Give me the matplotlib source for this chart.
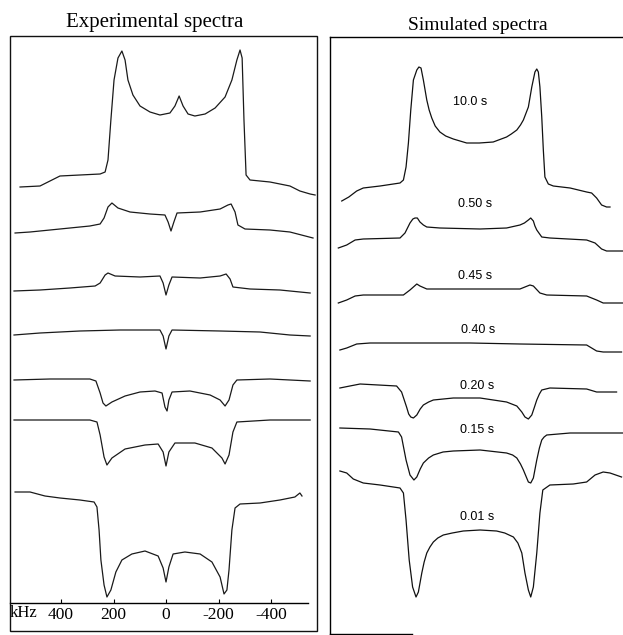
import matplotlib
matplotlib.use("Agg")
import matplotlib.pyplot as plt
from matplotlib.patches import Rectangle

W, H = 623, 635

# ---------------- Experimental spectra (x: kHz, y: stacked intensity) ----------
exp_labels = ["10.0 s", "0.50 s", "0.45 s", "0.40 s", "0.20 s", "0.15 s", "0.01 s"]

exp_10_x = [556, 480, 442, 404, 328, 251, 232, 221, 210, 198, 183, 168, 156, 145, 126, 99, 61, 23,
            -15, -34, -50, -65, -84, -110, -149, -187, -225, -251, -270, -282, -290, -297, -305,
            -320, -396, -472, -510, -549, -568]
exp_10_y = [416, 417, 422, 427, 428, 429, 431, 443, 483, 523, 545, 552, 543, 523, 508, 497, 491, 488,
            490, 497, 507, 497, 489, 487, 489, 495, 506, 523, 543, 553, 545, 483, 428,
            423, 421, 417, 412, 409, 408]

exp_050_x = [575, 518, 442, 366, 290, 251, 236, 221, 206, 183, 137, 61, 4, -8, -19, -30, -42,
             -130, -206, -236, -248, -263, -274, -301, -396, -472, -560]
exp_050_y = [370, 371, 373, 375, 377, 379, 385, 396, 400, 395, 391, 389, 388, 381, 372, 381, 390,
             391, 394, 398, 399, 391, 378, 374, 373, 371, 365]

exp_045_x = [579, 480, 366, 270, 251, 232, 221, 194, 99, 23, 11, 0, -11, -23, -130, -206, -229,
             -244, -255, -320, -434, -549]
exp_045_y = [312, 313, 315, 317, 320, 328, 330, 327, 326, 327, 320, 308, 318, 326, 325, 327, 329,
             324, 316, 314, 313, 310]

exp_040_x = [579, 480, 328, 175, 23, 11, 0, -11, -23, -206, -358, -472, -549]
exp_040_y = [268, 270, 272, 273, 273, 267, 254, 267, 273, 272, 271, 268, 267]

exp_020_x = [579, 442, 290, 267, 251, 240, 229, 206, 156, 99, 42, 15, 4, -4, -11, -23, -91, -168,
             -206, -225, -240, -255, -270, -396, -549]
exp_020_y = [223, 224, 224, 222, 210, 200, 197, 201, 207, 211, 212, 210, 196, 192, 203, 211, 212, 208,
             203, 197, 203, 218, 223, 224, 222]

exp_015_x = [579, 442, 290, 263, 251, 236, 225, 206, 156, 80, 30, 11, 0, -11, -34, -110, -175,
             -213, -225, -240, -255, -270, -396, -549]
exp_015_y = [183, 183, 183, 181, 168, 146, 138, 145, 154, 158, 159, 151, 137, 151, 160, 160, 155,
             145, 139, 148, 171, 181, 183, 183]

exp_001_x = [575, 518, 461, 404, 328, 274, 263, 255, 248, 236, 225, 210, 191, 168, 130, 80, 30, 11,
             0, -11, -27, -72, -130, -175, -206, -221, -232, -240, -251, -263, -282, -358, -434,
             -491, -510, -518]
exp_001_y = [111, 111, 107, 105, 103, 101, 96, 73, 43, 18, 6, 13, 31, 43, 49, 52, 47, 35,
             21, 36, 49, 51, 49, 41, 26, 9, 13, 33, 73, 95, 99, 100, 103,
             106, 110, 107]

exp_series = [(exp_10_x, exp_10_y), (exp_050_x, exp_050_y), (exp_045_x, exp_045_y),
              (exp_040_x, exp_040_y), (exp_020_x, exp_020_y), (exp_015_x, exp_015_y),
              (exp_001_x, exp_001_y)]

# ---------------- Simulated spectra ----------------
sim_10_x = [521, 494, 464, 439, 375, 299, 286, 276, 267, 258, 248, 235, 227, 219, 210, 197, 188, 178,
            165, 147, 125, 96, 45, -3, -56, -107, -125, -146, -160, -171, -190, -203, -215, -222,
            -228, -234, -241, -247, -253, -266, -285, -349, -412, -431, -450, -469, -488, -501]
sim_10_y = [433, 437, 443, 446, 448, 451, 454, 467, 491, 524, 554, 564, 567, 566, 554, 534, 524, 516,
            508, 502, 498, 495, 491, 491, 492, 497, 500, 504, 509, 514, 527, 547, 562, 565,
            562, 547, 517, 484, 457, 450, 448, 446, 442, 441, 436, 429, 427, 427]

sim_050_x = [534, 502, 470, 439, 299, 280, 261, 250, 242, 233, 223, 210, 197, 147, -6, -107, -158,
             -175, -190, -199, -209, -215, -222, -241, -272, -412, -444, -469, -488, -552]
sim_050_y = [386, 389, 394, 395, 396, 401, 411, 415, 416, 416, 412, 409, 407, 406, 405, 406, 409,
             411, 414, 416, 413, 408, 404, 397, 396, 394, 391, 385, 383, 383]

sim_045_x = [534, 502, 470, 439, 286, 261, 235, 223, 197, 159, -158, -196, -209, -234, -260, -412,
             -450, -475, -552]
sim_045_y = [331, 334, 338, 339, 339, 344, 350, 348, 345, 345, 345, 349, 348, 341, 339, 338,
             334, 331, 331]

sim_040_x = [528, 502, 464, 413, 223, 32, -158, -412, -450, -475, -545]
sim_040_y = [284, 286, 290, 291, 291, 291, 290, 289, 283, 282, 282]

sim_020_x = [528, 490, 451, 312, 293, 274, 266, 258, 248, 235, 222, 210, 190, 172, 96, -6, -107,
             -146, -165, -177, -190, -203, -212, -222, -232, -241, -272, -412, -450, -526]
sim_020_y = [246, 248, 250, 248, 242, 227, 220, 217, 216, 219, 225, 229, 232, 234, 236, 236, 232,
             228, 222, 217, 215, 219, 226, 234, 240, 244, 246, 245, 242, 242]

sim_015_x = [528, 413, 305, 293, 276, 261, 246, 235, 222, 210, 190, 172, 135, 96, -6, -107, -130,
             -146, -160, -171, -190, -199, -209, -222, -232, -241, -250, -260, -349, -552]
sim_015_y = [206, 205, 202, 197, 174, 159, 154, 157, 165, 171, 176, 179, 182, 183, 184, 181, 179,
             176, 170, 164, 152, 151, 156, 174, 186, 194, 197, 199, 201, 201]

sim_001_x = [528, 502, 477, 439, 375, 299, 286, 276, 264, 251, 238, 229, 216, 207, 197, 185, 172,
             155, 134, 100, 58, -6, -69, -100, -133, -150, -165, -177, -190, -199, -209, -222,
             -234, -245, -272, -361, -412, -444, -475, -501, -545]
sim_001_y = [163, 161, 155, 151, 149, 146, 141, 114, 74, 47, 37, 42, 61, 72, 81, 87, 92,
             96, 99, 101, 103, 104, 103, 101, 97, 91, 81, 61, 44, 37, 47, 81,
             121, 144, 149, 150, 152, 159, 162, 161, 157]

sim_series = [(sim_10_x, sim_10_y), (sim_050_x, sim_050_y), (sim_045_x, sim_045_y),
              (sim_040_x, sim_040_y), (sim_020_x, sim_020_y), (sim_015_x, sim_015_y),
              (sim_001_x, sim_001_y)]
sim_labels = ["10.0 s", "0.50 s", "0.45 s", "0.40 s", "0.20 s", "0.15 s", "0.01 s"]
sim_label_x = [32, 13, 13, 2, 5, 5, 5]
sim_label_y = [532, 430, 358, 304, 248, 204, 117]

tick_vals = [400, 200, 0, -200, -400]
tick_text = ["400", "200", "0", "-200", "-400"]

serif = ["Liberation Serif", "DejaVu Serif"]
sans = ["Liberation Sans", "DejaVu Sans"]

fig = plt.figure(figsize=(W / 100, H / 100), dpi=100)

def fx(px):
    return px / W

def fy(py):
    return 1 - py / H

# ---------- left panel ----------
axL = fig.add_axes([fx(10), fy(603), (317 - 10) / W, (603 - 36) / H])
axL.set_xlim(594.3, -575.2)
axL.set_ylim(0, 567)
for s in ["top", "right", "left"]:
    axL.spines[s].set_visible(False)
axL.spines["bottom"].set_linewidth(1.0)
axL.spines["bottom"].set_bounds(594.3, -540)
for xs, ys in exp_series:
    axL.plot(xs, ys, color="#1a1a1a", lw=0.9)
axL.set_xticks(tick_vals)
axL.set_xticklabels(tick_text, fontfamily=serif, fontsize=12.5)
axL.tick_params(axis="x", direction="in", length=3, width=0.8, pad=3)
axL.set_yticks([])
axL.patch.set_alpha(0)

fig.patches.append(Rectangle((fx(10), fy(631)), (317 - 10) / W, (631 - 36) / H,
                             transform=fig.transFigure, fill=False, lw=1.0,
                             edgecolor="#111111"))
fig.text(fx(10), fy(613), "kHz", fontfamily=serif, fontsize=12, ha="left", va="center")
fig.text(fx(155), fy(22), "Experimental spectra", fontfamily=serif, fontsize=15,
         ha="center", va="center")

# ---------- right panel ----------
axR = fig.add_axes([fx(330), fy(634), (623 - 330) / W, (634 - 37) / H])
axR.set_xlim(565.7, -550.5)
axR.set_ylim(0, 597)
axR.spines["right"].set_visible(False)
axR.spines["bottom"].set_bounds(565.7, 253)
for s in ["top", "left", "bottom"]:
    axR.spines[s].set_linewidth(1.0)
axR.set_xticks([])
axR.set_yticks([])
for (xs, ys), lab, lx, ly in zip(sim_series, sim_labels, sim_label_x, sim_label_y):
    axR.plot(xs, ys, color="#111111", lw=0.9)
    axR.text(lx, ly, lab, fontfamily=sans, fontsize=9, ha="center", va="center")
fig.text(fx(478), fy(25), "Simulated spectra", fontfamily=serif, fontsize=14,
         ha="center", va="center")

fig.savefig("out.png", dpi=100)
